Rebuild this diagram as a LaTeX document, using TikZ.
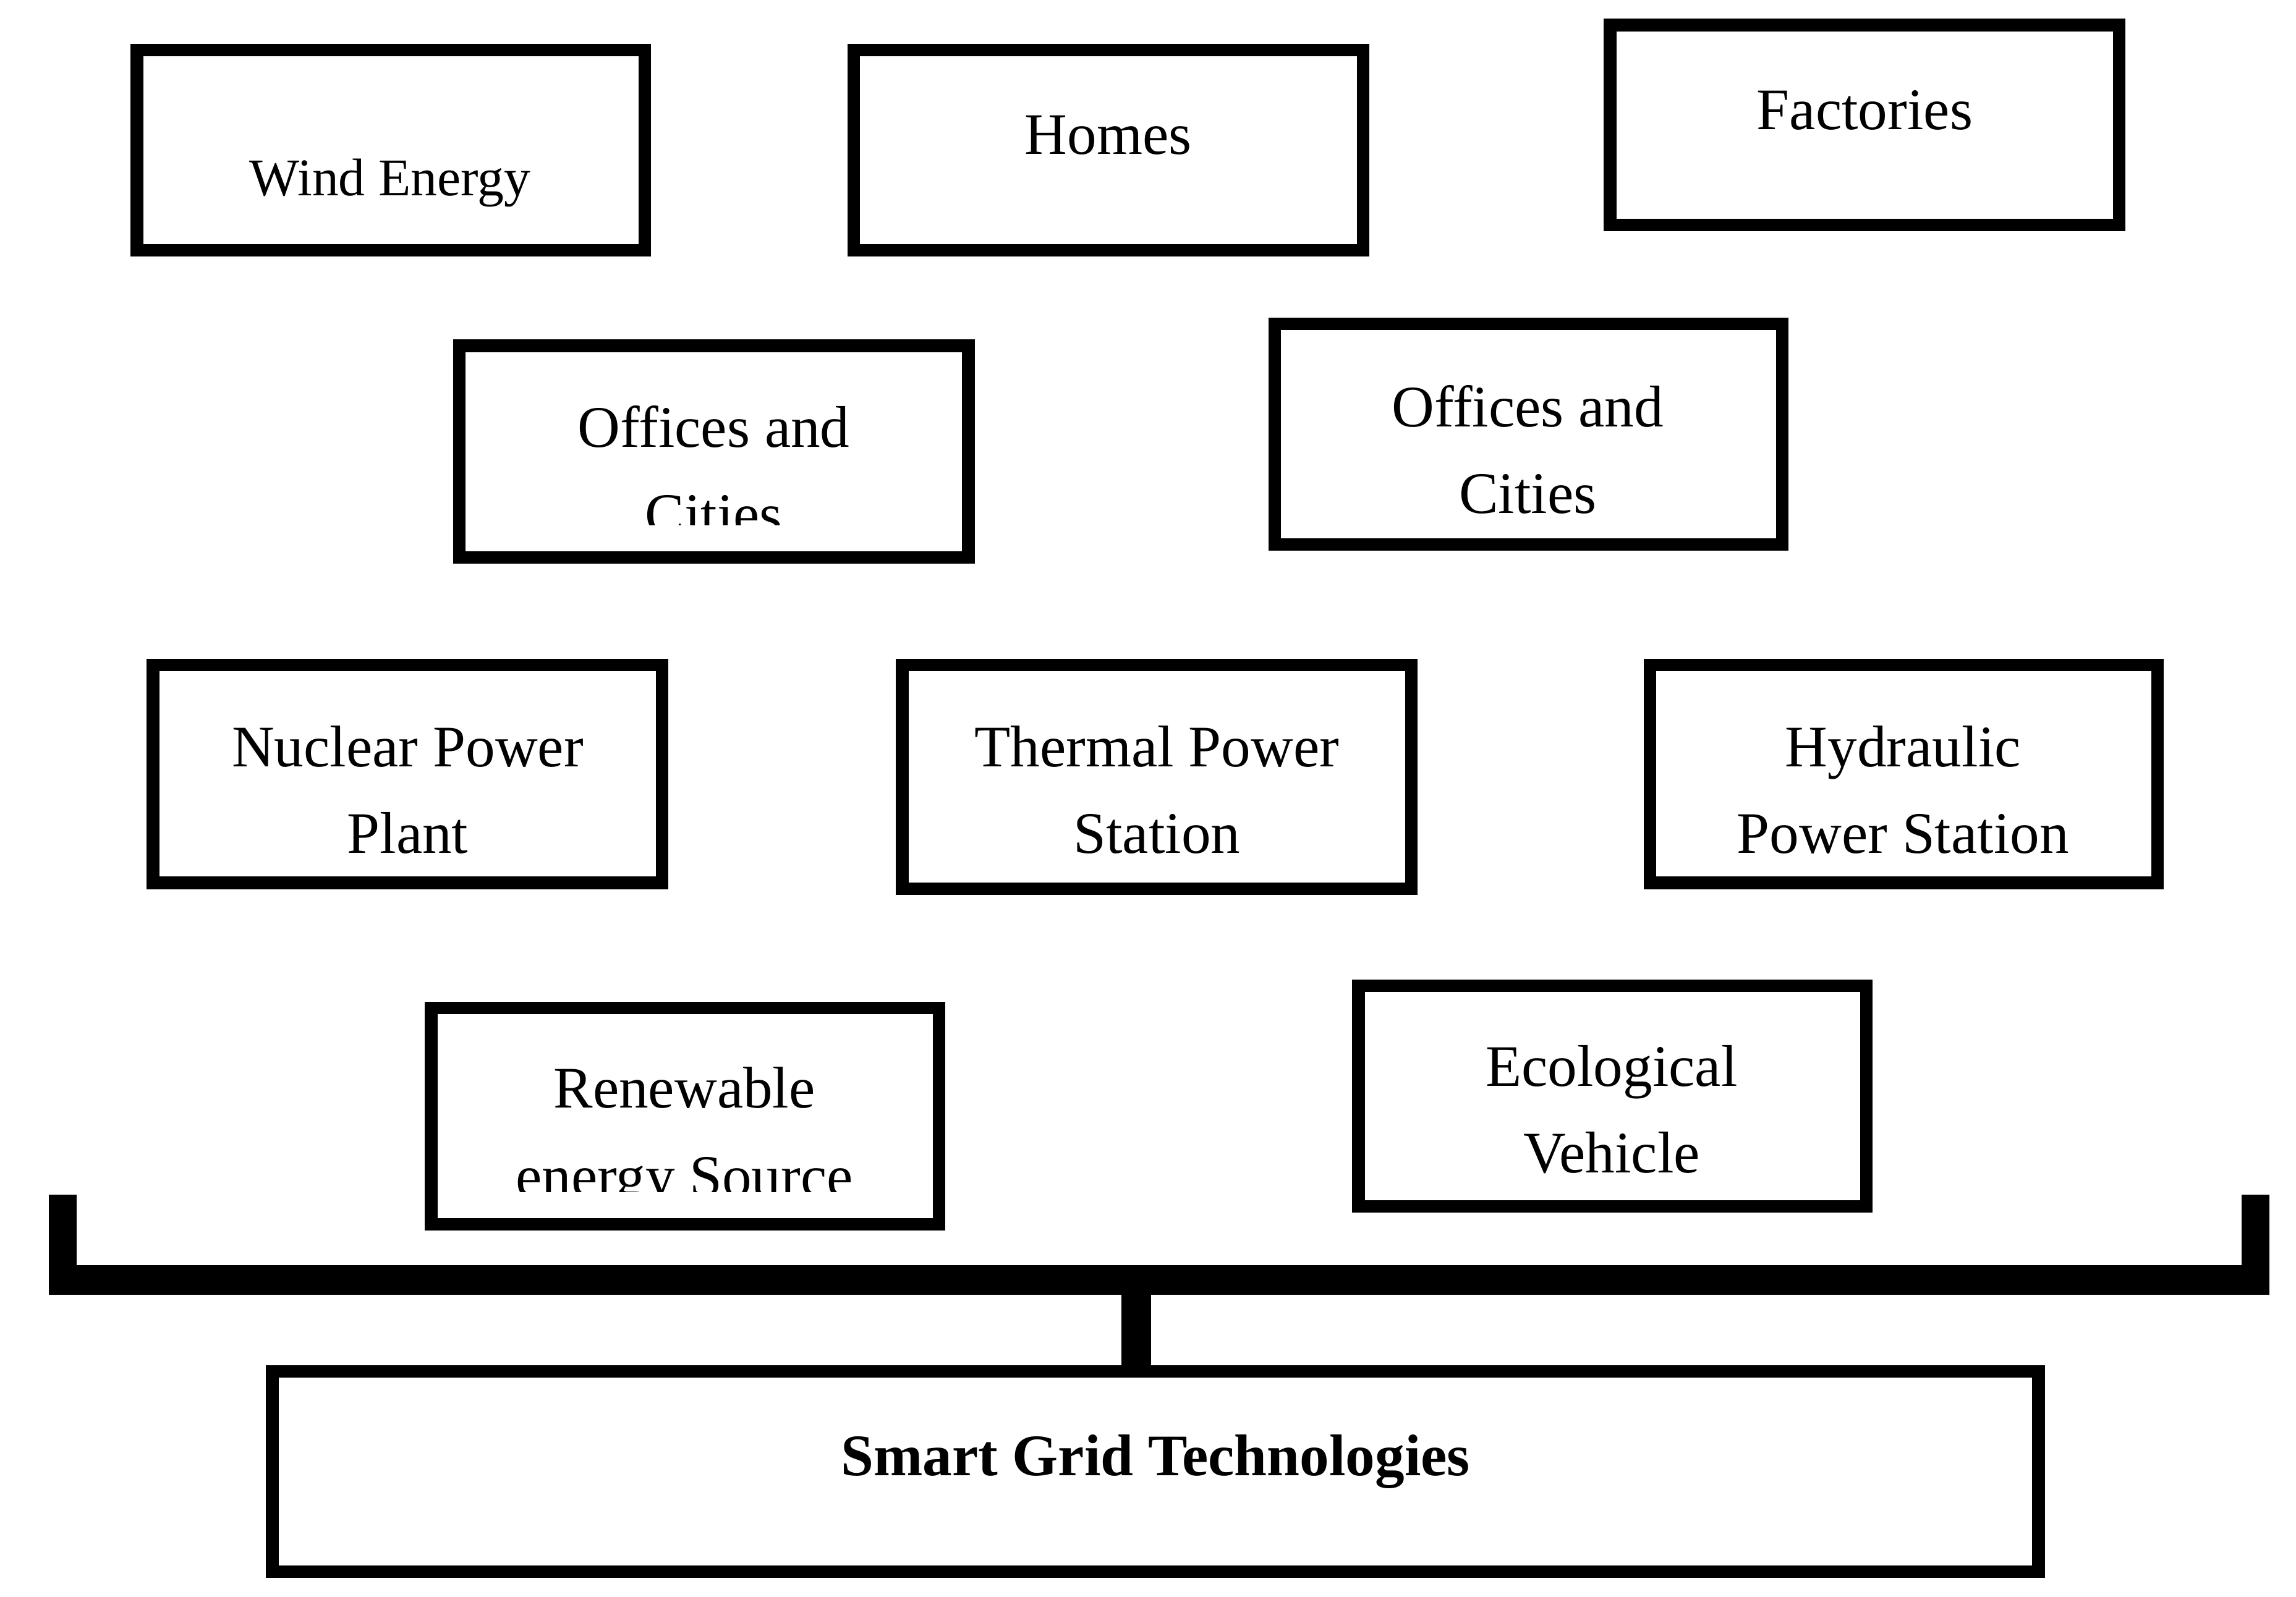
\documentclass[tikz,border=0pt]{standalone}
\usepackage{fontspec}
\setmainfont{Liberation Serif}
\begin{document}
\begin{tikzpicture}[x=1pt,y=-1pt,
  bx/.style={draw,line width=8.5pt},
  tx/.style={font=\fontsize{40}{40}\selectfont,inner sep=0pt,anchor=base}]
\useasboundingbox (0,0) rectangle (1560,1085);
\draw[bx] (93,34) rectangle (438,170) node[midway] (b1) {};
\node[tx,font=\fontsize{36}{36}\selectfont] (t1) at (265,133) {Wind Energy};
\draw[bx] (580,34) rectangle (926,170);
\node[tx] (t2) at (753,105) {Homes};
\draw[bx] (1094,17) rectangle (1440,153);
\node[tx] (t3) at (1267,88) {Factories};
\draw[bx] (312,235) rectangle (658,379);
\node[tx] (t4) at (485,304) {Offices and};
\begin{scope}\clip (320,240) rectangle (650,357);
\node[tx] (t4b) at (485,363) {Cities};
\end{scope}
\draw[bx] (866,220) rectangle (1211,370);
\node[tx] (t5) at (1038,290) {Offices and};
\node[tx] (t5b) at (1038,349) {Cities};
\draw[bx] (104,452) rectangle (450,600);
\node[tx] (t6) at (277,521) {Nuclear Power};
\node[tx] (t6b) at (277,580) {Plant};
\draw[bx] (613,452) rectangle (959,604);
\node[tx] (t7) at (786,521) {Thermal Power};
\node[tx] (t7b) at (786,580) {Station};
\draw[bx] (1121,452) rectangle (1466,600);
\node[tx] (t8) at (1293,521) {Hydraulic};
\node[tx] (t8b) at (1293,580) {Power Station};
\draw[bx] (293,685) rectangle (638,832);
\node[tx] (t9) at (465,753) {Renewable};
\begin{scope}\clip (300,690) rectangle (630,810);
\node[tx] (t9b) at (465,813) {energy Source};
\end{scope}
\draw[bx] (923,670) rectangle (1268,820);
\node[tx] (t10) at (1095,738) {Ecological};
\node[tx] (t10b) at (1095,797) {Vehicle};
\fill (33,860) rectangle (1542,880);
\fill (33,812) rectangle (52,880);
\fill (1523,812) rectangle (1542,880);
\fill (762,880) rectangle (782,932);
\draw[bx] (185,932) rectangle (1385,1068);
\node[tx,font=\bfseries\fontsize{40}{40}\selectfont] (t11) at (785,1003) {Smart Grid Technologies};
\end{tikzpicture}
\end{document}
